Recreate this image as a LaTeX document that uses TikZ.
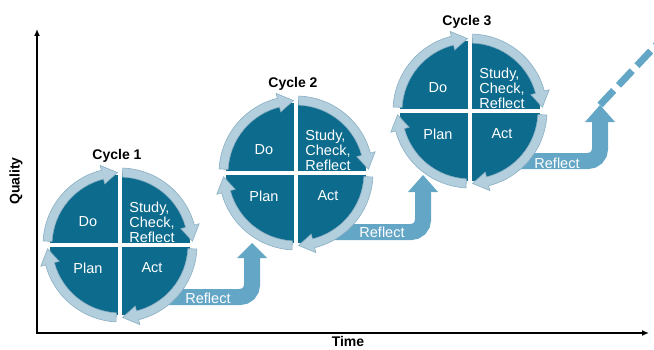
\documentclass[tikz,border=0pt]{standalone}
\usepackage{fontspec}
\setmainfont{Liberation Sans}
\usetikzlibrary{arrows.meta,calc}

\definecolor{diskblue}{HTML}{0D6B8D}
\definecolor{ringlight}{HTML}{B3CEDC}
\definecolor{ringedge}{HTML}{89AFC4}
\definecolor{reflectblue}{HTML}{64A6C5}

% one quarter of the circulating ring: clockwise from #1 to the tip at #2
\newcommand\cyclearc[2]{%
  \pgfmathsetmacro\arcbase{#2+12}%
  \filldraw[ringarc] (#1:77) arc[start angle=#1, end angle=\arcbase, radius=77]
    -- (\arcbase:82) -- (#2:72.5) -- (\arcbase:63) -- (\arcbase:68)
    arc[start angle=\arcbase, end angle=#1, radius=68] -- cycle;}

\begin{document}
\begin{tikzpicture}[x=1pt, y=1pt,
  axisline/.style={line width=1.6pt, -{Latex[length=7pt, width=6pt]}},
  axislabel/.style={font=\fontsize{14}{16}\selectfont\bfseries, inner sep=0pt},
  ringarc/.style={fill=ringlight, draw=ringedge, line width=0.6pt},
  qtext/.style={text=white, font=\fontsize{14.5}{15}\selectfont, align=left, inner sep=0pt},
  cycletitle/.style={font=\fontsize{14}{16}\selectfont\bfseries, inner sep=0pt},
  reflectband/.style={draw=reflectblue, line width=16pt, rounded corners=12pt},
  reflecthead/.style={fill=reflectblue},
  reflecttext/.style={text=white, font=\fontsize{14.5}{16}\selectfont, inner sep=0pt},
  pics/pdsa/.style={code={
    \fill[diskblue] (0,0) circle[radius=70];
    \draw[white, line width=3.5pt] (-71,0) -- (71,0) (0,-71) -- (0,71);
    \cyclearc{177}{92}
    \cyclearc{88}{3}
    \cyclearc{-3}{-88}
    \cyclearc{-93}{-177}
    \node[qtext] (-do) at (-32,23) {Do};
    \node[qtext] (-study) at (32,23) {Study,\\Check,\\Reflect};
    \node[qtext] (-plan) at (-32,-23) {Plan};
    \node[qtext] (-act) at (32,-23) {Act};
    \node[cycletitle] (-title) at (-3,89) {Cycle #1};
  }}]
\useasboundingbox (0,0) rectangle (654,349);

% axes
\coordinate (origin) at (37,16);
\coordinate (ytop) at (37,320);
\coordinate (xend) at (649,16);
\draw[axisline] ($(origin)+(0,-0.8)$) -- (ytop);
\draw[axisline] ($(origin)+(-0.8,0)$) -- (xend);
\node[axislabel, rotate=90] (quality) at (16,168) {Quality};
\node[axislabel, anchor=north] (time) at (348,13) {Time};

% reflect arrows between cycles
\coordinate (r1a) at (150,52);  \coordinate (r1b) at (252,52);
\coordinate (r1c) at (252,92);  \coordinate (r1t) at (252,106);
\coordinate (r2a) at (326,117); \coordinate (r2b) at (423,117);
\coordinate (r2c) at (423,158); \coordinate (r2t) at (423,174);
\coordinate (r3a) at (500,188); \coordinate (r3b) at (600,188);
\coordinate (r3c) at (600,228); \coordinate (r3t) at (600,244);
\coordinate (beyond) at (662,310);

\foreach \r in {r1,r2,r3}{
  \draw[reflectband] (\r a) -- (\r b) -- (\r c);
  \fill[reflecthead] ($(\r c)+(-15,-1)$) -- (\r t) -- ($(\r c)+(15,-1)$) -- cycle;
}
\draw[draw=reflectblue, line width=7pt, dash pattern=on 20pt off 7pt] (r3t) -- (beyond);

\node[reflecttext] (ref1) at (208,51) {Reflect};
\node[reflecttext] (ref2) at (382,117) {Reflect};
\node[reflecttext] (ref3) at (557,186) {Reflect};

% the three improvement cycles
\pic (c1) at (120,104) {pdsa=1};
\pic (c2) at (296,176) {pdsa=2};
\pic (c3) at (470,238) {pdsa=3};
\end{tikzpicture}
\end{document}
